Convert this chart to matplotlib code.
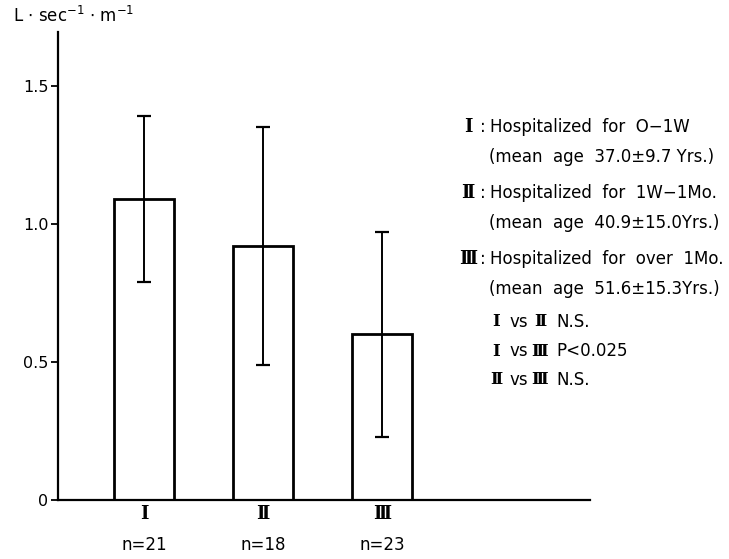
import numpy as np
import matplotlib.pyplot as plt

groups = ['Ⅰ', 'Ⅱ', 'Ⅲ']
n_labels = ['n=21', 'n=18', 'n=23']
means = [1.09, 0.92, 0.60]
sds = [0.30, 0.43, 0.37]
yticks = [0, 0.5, 1.0, 1.5]
ytick_labels = ['0', '0.5', '1.0', '1.5']

legend_lines = [
    ('Ⅰ', 'Hospitalized  for  O−1W', '(mean  age  37.0±9.7 Yrs.)'),
    ('Ⅱ', 'Hospitalized  for  1W−1Mo.', '(mean  age  40.9±15.0Yrs.)'),
    ('Ⅲ', 'Hospitalized  for  over  1Mo.', '(mean  age  51.6±15.3Yrs.)'),
]
stats_lines = [('Ⅰ', 'Ⅱ', 'N.S.'), ('Ⅰ', 'Ⅲ', 'P<0.025'), ('Ⅱ', 'Ⅲ', 'N.S.')]

plt.rcParams['font.family'] = ['DejaVu Sans']
roman = ['DejaVu Serif', 'DejaVu Sans']

W, H = 729, 559
fig = plt.figure(figsize=(W / 100, H / 100), dpi=100)
ax = fig.add_axes([58 / W, 59 / H, 532 / W, 468 / H])

x = np.arange(1, len(means) + 1)
ax.bar(x, means, width=0.504, color='white', edgecolor='black', linewidth=2.0, zorder=2)
ax.errorbar(x, means, yerr=sds, fmt='none', ecolor='black', elinewidth=1.4,
            capsize=5, capthick=1.6, zorder=3)

ax.set_xlim(0.277, 4.75)
ax.set_ylim(0, 1.696)
for s in ['top', 'right']:
    ax.spines[s].set_visible(False)
ax.spines['left'].set_linewidth(1.6)
ax.spines['bottom'].set_linewidth(1.6)

ax.set_yticks(yticks)
ax.set_yticklabels(ytick_labels, fontsize=11.5)
ax.tick_params(axis='y', direction='out', length=5, width=1.3, pad=2)
ax.set_xticks([])

# group numerals and sample sizes under the bars
xt = ax.get_xaxis_transform()
for xi, g, n in zip(x, groups, n_labels):
    ax.text(xi, -0.030, g, ha='center', va='center', fontsize=13, weight='bold',
            family=roman, transform=xt, clip_on=False)
    ax.text(xi, -0.096, n, ha='center', va='center', fontsize=12,
            transform=xt, clip_on=False)

fig.text(13 / W, 1 - 16 / H, r'L $\cdot$ sec$^{-1}$ $\cdot$ m$^{-1}$', fontsize=12,
         ha='left', va='center')

# legend text on the right
rows_y = [127, 193, 259]
for (num, head, age), yy in zip(legend_lines, rows_y):
    fig.text(468 / W, 1 - yy / H, num, fontsize=13, family=roman, weight='bold',
             ha='center', va='center')
    fig.text(483 / W, 1 - yy / H, ':', fontsize=12, ha='center', va='center')
    fig.text(490 / W, 1 - yy / H, head, fontsize=12, ha='left', va='center')
    fig.text(489 / W, 1 - (yy + 30) / H, age, fontsize=12, ha='left', va='center')

for (a, b, res), yy in zip(stats_lines, [322, 351, 380]):
    fig.text(496 / W, 1 - yy / H, a, fontsize=12, family=roman, weight='bold',
             ha='center', va='center')
    fig.text(509 / W, 1 - yy / H, 'vs', fontsize=12, ha='left', va='center')
    fig.text(540 / W, 1 - yy / H, b, fontsize=12, family=roman, weight='bold',
             ha='center', va='center')
    fig.text(556 / W, 1 - yy / H, res, fontsize=12, ha='left', va='center')

fig.savefig('out.png', dpi=100)
